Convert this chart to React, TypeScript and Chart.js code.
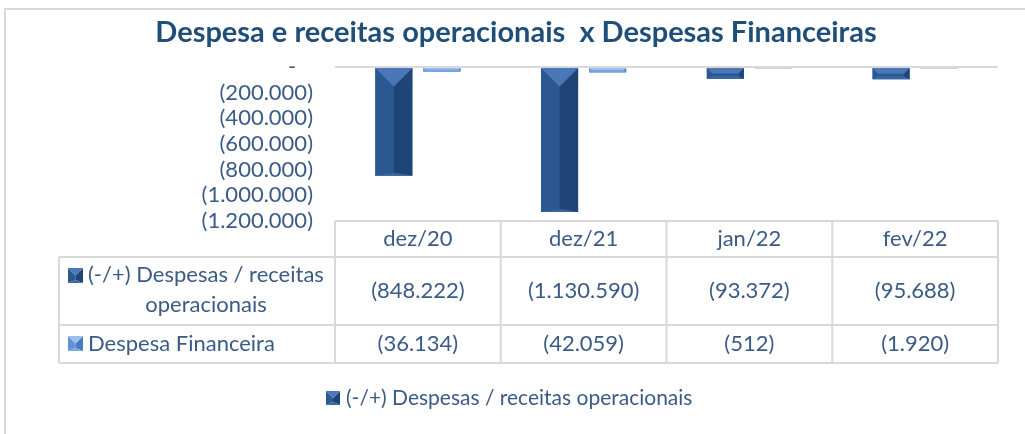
import React, { useEffect, useRef } from 'react';
import { Chart, registerables } from 'chart.js';

Chart.register(...registerables);

const chartTitle = 'Despesa e receitas operacionais  x Despesas Financeiras';
const categories = ['dez/20', 'dez/21', 'jan/22', 'fev/22'];
const seriesNames = ['(-/+) Despesas / receitas operacionais', 'Despesa Financeira'];
const operacionais = [-848222, -1130590, -93372, -95688];
const financeira = [-36134, -42059, -512, -1920];
const yMin = -1200000;
const yMax = 0;
const yStep = 200000;

const FONT = 'Lato, "Liberation Sans", sans-serif';
const TEXT = '#3B5B87';
const TITLE_COLOR = '#1F4E79';
const GRID = '#D9D9D9';
const FS = 22;

const DARK = { top: '#4A78B6', left: '#2C5892', right: '#1F4576', bottom: '#3766A3', pale: '#3766A3' };
const LIGHT = { top: '#9CC0EE', left: '#5E93D8', right: '#4A7BC0', bottom: '#76A5E0', pale: '#C5D7EF' };

function fmt(v: number): string {
  if (v === 0) return '-';
  const s = Math.abs(v).toString().replace(/\B(?=(\d{3})+(?!\d))/g, '.');
  return v < 0 ? `(${s})` : s;
}

function poly(ctx: CanvasRenderingContext2D, pts: number[][], color: string) {
  ctx.beginPath();
  ctx.moveTo(pts[0][0], pts[0][1]);
  for (let i = 1; i < pts.length; i++) ctx.lineTo(pts[i][0], pts[i][1]);
  ctx.closePath();
  ctx.fillStyle = color;
  ctx.fill();
}

function bevel(ctx: CanvasRenderingContext2D, x0: number, y0: number, x1: number, y1: number, c: any) {
  const w = x1 - x0;
  const h = y1 - y0;
  if (h < 2.5) {
    ctx.fillStyle = c.pale;
    ctx.fillRect(x0, y0, w, h);
    return;
  }
  const s = Math.min(w / 2, h / 2);
  const dt = Math.min(w / 2, h / 2);
  const db = Math.min(3, h / 2);
  const ix0 = x0 + s, ix1 = x1 - s, iy0 = y0 + dt, iy1 = y1 - db;
  poly(ctx, [[x0, y0], [ix0, iy0], [ix0, iy1], [x0, y1]], c.left);
  poly(ctx, [[x1, y0], [ix1, iy0], [ix1, iy1], [x1, y1]], c.right);
  if (ix1 > ix0) {
    ctx.fillStyle = c.left;
    ctx.fillRect(ix0, iy0, ix1 - ix0, iy1 - iy0);
  }
  poly(ctx, [[x0, y0], [x1, y0], [ix1, iy0], [ix0, iy0]], c.top);
  poly(ctx, [[x0, y1], [x1, y1], [ix1, iy1], [ix0, iy1]], c.bottom);
}

const decorPlugin = {
  id: 'decor',
  beforeDraw(chart: any) {
    const ctx = chart.ctx as CanvasRenderingContext2D;
    ctx.save();
    ctx.fillStyle = '#FFFFFF';
    ctx.fillRect(0, 0, chart.width, chart.height);
    ctx.strokeStyle = GRID;
    ctx.lineWidth = 2;
    ctx.beginPath();
    ctx.moveTo(5, chart.height);
    ctx.lineTo(5, 9);
    ctx.lineTo(chart.width, 9);
    ctx.stroke();
    ctx.restore();
  },
  afterDatasetsDraw(chart: any) {
    const ctx = chart.ctx as CanvasRenderingContext2D;
    ctx.save();
    chart.data.datasets.forEach((ds: any, di: number) => {
      const meta = chart.getDatasetMeta(di);
      const colors = di === 0 ? DARK : LIGHT;
      meta.data.forEach((bar: any) => {
        const p = bar.getProps(['x', 'y', 'base', 'width'], true);
        const top = Math.min(p.y, p.base);
        const bottom = Math.max(p.y, p.base);
        bevel(ctx, p.x - p.width / 2, top, p.x + p.width / 2, bottom, colors);
      });
    });
    ctx.restore();
  },
  afterDraw(chart: any) {
    const ctx = chart.ctx as CanvasRenderingContext2D;
    const area = chart.chartArea;
    const xs = chart.scales.x;
    ctx.save();

    // title
    ctx.fillStyle = TITLE_COLOR;
    ctx.font = `bold 29px ${FONT}`;
    ctx.textAlign = 'center';
    ctx.textBaseline = 'middle';
    ctx.fillText(chartTitle, 516, 33);

    // data table
    const n = categories.length;
    const cw = (area.right - area.left) / n;
    const yH = area.bottom;
    const y1 = yH + 36;
    const y2 = y1 + 68;
    const y3 = y2 + 38;
    const labelLeft = 59;

    ctx.strokeStyle = GRID;
    ctx.lineWidth = 2;
    ctx.beginPath();
    ctx.moveTo(area.left, yH); ctx.lineTo(area.right, yH);
    [y1, y2, y3].forEach((yy) => { ctx.moveTo(labelLeft, yy); ctx.lineTo(area.right, yy); });
    ctx.moveTo(labelLeft, y1); ctx.lineTo(labelLeft, y3);
    for (let i = 0; i <= n; i++) {
      const xx = area.left + i * cw;
      ctx.moveTo(xx, yH); ctx.lineTo(xx, y3);
    }
    ctx.stroke();

    ctx.fillStyle = TEXT;
    ctx.font = `${FS}px ${FONT}`;
    ctx.textAlign = 'center';
    ctx.textBaseline = 'middle';
    categories.forEach((c, i) => {
      const cx = xs.getPixelForValue(i);
      ctx.fillStyle = TEXT;
      ctx.fillText(c, cx, (yH + y1) / 2);
      ctx.fillText(fmt(operacionais[i]), cx, (y1 + y2) / 2);
      ctx.fillText(fmt(financeira[i]), cx, (y2 + y3) / 2);
    });

    // row labels
    const words = seriesNames[0].split(' ');
    const line1 = words.slice(0, 4).join(' ');
    const line2 = words.slice(4).join(' ');
    bevel(ctx, 68, 268, 83, 283, DARK);
    ctx.fillStyle = TEXT;
    ctx.textAlign = 'left';
    ctx.fillText(line1, 88, 275);
    ctx.textAlign = 'center';
    ctx.fillText(line2, 206, 305);
    bevel(ctx, 68, 336, 83, 351, LIGHT);
    ctx.fillStyle = TEXT;
    ctx.textAlign = 'left';
    ctx.fillText(seriesNames[1], 88, 344);

    // legend
    bevel(ctx, 326, 391, 340, 405, DARK);
    ctx.fillStyle = TEXT;
    ctx.font = `21px ${FONT}`;
    ctx.textAlign = 'left';
    ctx.fillText(seriesNames[0], 346, 398);

    ctx.restore();
  },
};

export default function App() {
  const ref = useRef<HTMLCanvasElement | null>(null);
  useEffect(() => {
    if (!ref.current) return;
    const chart = new Chart(ref.current, {
      type: 'bar',
      data: {
        labels: categories,
        datasets: [
          { label: seriesNames[0], data: operacionais, backgroundColor: DARK.left, borderWidth: 0, categoryPercentage: 0.58, barPercentage: 0.77 },
          { label: seriesNames[1], data: financeira, backgroundColor: LIGHT.left, borderWidth: 0, categoryPercentage: 0.58, barPercentage: 0.77, minBarLength: 2 },
        ],
      },
      options: {
        responsive: false,
        animation: false,
        devicePixelRatio: 1,
        layout: { padding: { left: 0, right: 27, top: 67, bottom: 213 } },
        plugins: { legend: { display: false }, title: { display: false }, tooltip: { enabled: false } },
        scales: {
          x: { display: false },
          y: {
            min: yMin,
            max: yMax,
            afterFit: (scale: any) => { scale.width = 335; },
            ticks: {
              stepSize: yStep,
              autoSkip: false,
              padding: 22,
              color: TEXT,
              font: { family: FONT, size: FS },
              callback: (v: any) => (Number(v) === 0 ? '-   ' : fmt(Number(v))),
            },
            grid: {
              drawTicks: false,
              lineWidth: 2,
              color: (ctx: any) => (ctx.tick && ctx.tick.value === 0 ? GRID : 'rgba(0,0,0,0)'),
            },
            border: { display: false },
          },
        },
      },
      plugins: [decorPlugin],
    });
    return () => chart.destroy();
  }, []);
  return (
    <div style={{ position: 'fixed', left: 0, top: 0, width: 1025, height: 434, background: '#fff' }}>
      <canvas ref={ref} width={1025} height={434} style={{ display: 'block', width: 1025, height: 434 }} />
    </div>
  );
}
